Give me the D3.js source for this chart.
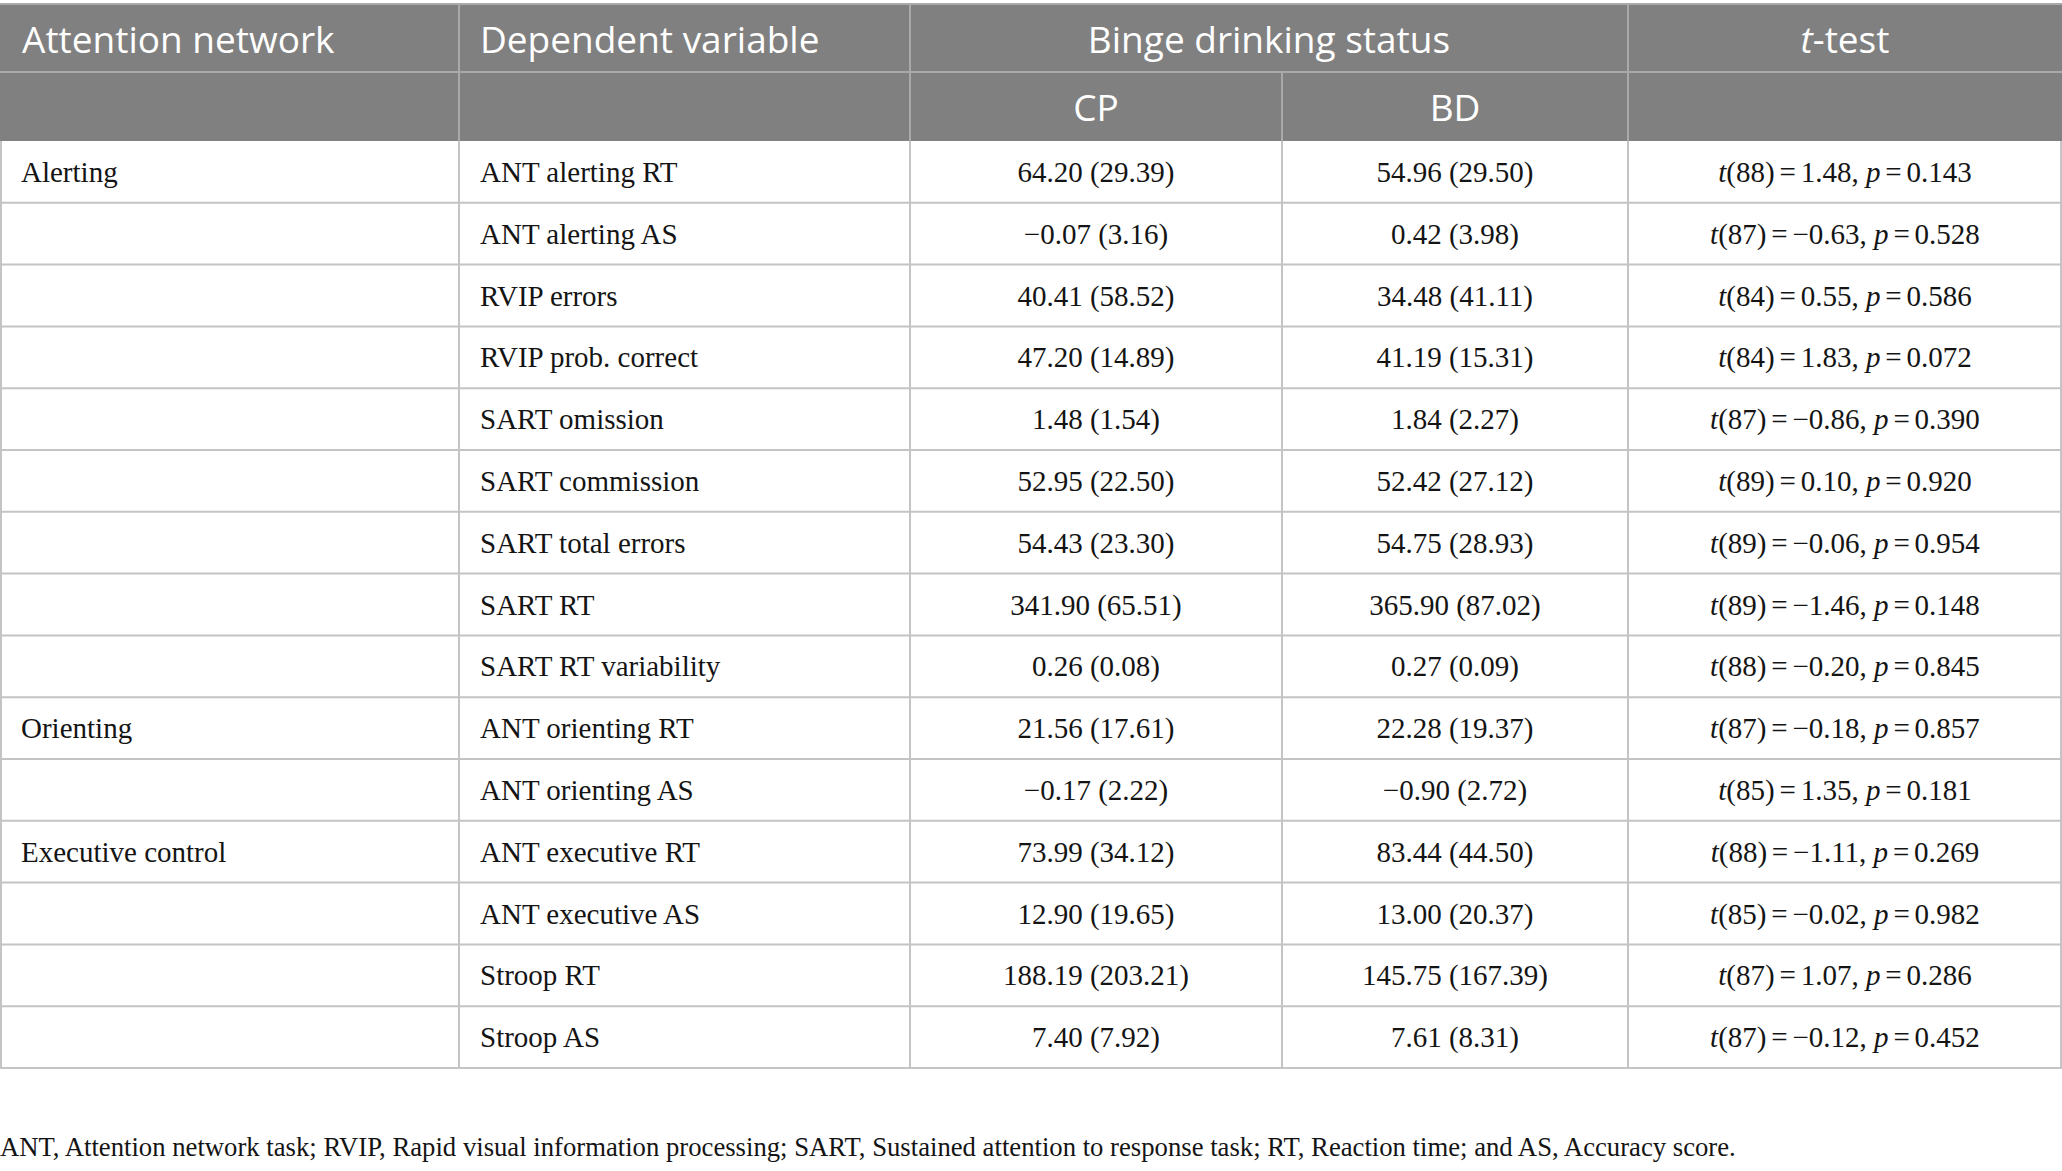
<!DOCTYPE html>
<html lang="en">
<head>
<meta charset="utf-8">
<title>Attention network table</title>
<script src="https://cdn.jsdelivr.net/npm/d3@7"></script>
<style>
  body { margin: 0; background: #fff; }
  svg { display: block; }
</style>
</head>
<body>
<script>
var networks = ["Alerting", "", "", "", "", "", "", "", "", "Orienting", "", "Executive control", "", "", ""];
var variables = ["ANT alerting RT", "ANT alerting AS", "RVIP errors", "RVIP prob. correct", "SART omission",
  "SART commission", "SART total errors", "SART RT", "SART RT variability", "ANT orienting RT",
  "ANT orienting AS", "ANT executive RT", "ANT executive AS", "Stroop RT", "Stroop AS"];
var cpMean = [64.20, -0.07, 40.41, 47.20, 1.48, 52.95, 54.43, 341.90, 0.26, 21.56, -0.17, 73.99, 12.90, 188.19, 7.40];
var cpSd   = [29.39, 3.16, 58.52, 14.89, 1.54, 22.50, 23.30, 65.51, 0.08, 17.61, 2.22, 34.12, 19.65, 203.21, 7.92];
var bdMean = [54.96, 0.42, 34.48, 41.19, 1.84, 52.42, 54.75, 365.90, 0.27, 22.28, -0.90, 83.44, 13.00, 145.75, 7.61];
var bdSd   = [29.50, 3.98, 41.11, 15.31, 2.27, 27.12, 28.93, 87.02, 0.09, 19.37, 2.72, 44.50, 20.37, 167.39, 8.31];
var tDf    = [88, 87, 84, 84, 87, 89, 89, 89, 88, 87, 85, 88, 85, 87, 87];
var tVal   = [1.48, -0.63, 0.55, 1.83, -0.86, 0.10, -0.06, -1.46, -0.20, -0.18, 1.35, -1.11, -0.02, 1.07, -0.12];
var pVal   = [0.143, 0.528, 0.586, 0.072, 0.390, 0.920, 0.954, 0.148, 0.845, 0.857, 0.181, 0.269, 0.982, 0.286, 0.452];
var headers = ["Attention network", "Dependent variable", "Binge drinking status", "t-test"];
var groups = ["CP", "BD"];
var footnote = "ANT, Attention network task; RVIP, Rapid visual information processing; SART, Sustained attention to response task; RT, Reaction time; and AS, Accuracy score.";

var w = 2062, h = 1171;
var colEdges = [0, 459, 910, 1282, 1628, 2062];
var f2 = d3.format(".2f"), f3 = d3.format(".3f");

var svg = d3.select("body").append("svg").attr("width", w).attr("height", h);

var headTop = 4, headMid = 72, headBot = 141, tableBot = 1068;
var y = d3.scaleBand().domain(d3.range(variables.length)).range([headBot, tableBot]);

var headFont = "'Open Sans', 'Noto Sans', sans-serif";
var bodyFont = "'Liberation Serif', 'DejaVu Serif', serif";
var headLine = "#a9a9a9", bodyLine = "#c4c4c4";
var sp = "\u2006";

// header background
svg.append("rect").attr("x", 0).attr("y", headTop).attr("width", w).attr("height", headBot - headTop).attr("fill", "#808080");
svg.append("line").attr("x1", 0).attr("x2", w).attr("y1", headTop).attr("y2", headTop).attr("stroke", headLine).attr("stroke-width", 2);
svg.append("line").attr("x1", 0).attr("x2", w).attr("y1", headMid).attr("y2", headMid).attr("stroke", headLine).attr("stroke-width", 2);

// header vertical lines
[1, 2, 4].forEach(function(i) {
  svg.append("line").attr("x1", colEdges[i]).attr("x2", colEdges[i]).attr("y1", headTop).attr("y2", headMid)
    .attr("stroke", headLine).attr("stroke-width", 2);
});
[1, 2, 3, 4].forEach(function(i) {
  svg.append("line").attr("x1", colEdges[i]).attr("x2", colEdges[i]).attr("y1", headMid).attr("y2", headBot)
    .attr("stroke", headLine).attr("stroke-width", 2);
});

var hy = (headTop + headMid) / 2 + 2, hy2 = (headMid + headBot) / 2 + 1;
function headText(x, yy, anchor) {
  return svg.append("text").attr("x", x).attr("y", yy).attr("dy", "0.36em")
    .attr("text-anchor", anchor).attr("fill", "#fff")
    .attr("font-family", headFont).attr("font-size", 37);
}
headText(colEdges[0] + 22, hy, "start").text(headers[0]);
headText(colEdges[1] + 21, hy, "start").text(headers[1]);
headText((colEdges[2] + colEdges[4]) / 2, hy, "middle").text(headers[2]);
var tt = headText((colEdges[4] + colEdges[5]) / 2, hy, "middle");
tt.append("tspan").attr("font-style", "italic").text("t");
tt.append("tspan").text("-test");
groups.forEach(function(g, i) {
  headText((colEdges[2 + i] + colEdges[3 + i]) / 2, hy2, "middle").text(g);
});

// body grid
svg.selectAll(".hline").data(d3.range(variables.length)).enter().append("line")
  .attr("class", "hline")
  .attr("x1", 0).attr("x2", w)
  .attr("y1", function(d) { return y(d) + y.bandwidth(); })
  .attr("y2", function(d) { return y(d) + y.bandwidth(); })
  .attr("stroke", bodyLine).attr("stroke-width", 2);
svg.selectAll(".vline").data(colEdges).enter().append("line")
  .attr("class", "vline")
  .attr("x1", function(d, i) { return i == 0 ? 1 : (i == colEdges.length - 1 ? w - 1 : d); })
  .attr("x2", function(d, i) { return i == 0 ? 1 : (i == colEdges.length - 1 ? w - 1 : d); })
  .attr("y1", headBot).attr("y2", tableBot)
  .attr("stroke", bodyLine).attr("stroke-width", 2);

var rows = svg.selectAll(".row").data(variables).enter().append("g")
  .attr("class", "row")
  .attr("transform", function(d, i) { return "translate(0," + (y(i) + y.bandwidth() / 2) + ")"; })
  .attr("font-family", bodyFont).attr("font-size", 29).attr("fill", "#141414");

rows.append("text").attr("x", colEdges[0] + 21).attr("dy", "0.35em")
  .text(function(d, i) { return networks[i]; });
rows.append("text").attr("x", colEdges[1] + 21).attr("dy", "0.35em")
  .text(function(d) { return d; });
rows.append("text").attr("x", (colEdges[2] + colEdges[3]) / 2).attr("dy", "0.35em").attr("text-anchor", "middle")
  .text(function(d, i) { return f2(cpMean[i]) + " (" + f2(cpSd[i]) + ")"; });
rows.append("text").attr("x", (colEdges[3] + colEdges[4]) / 2).attr("dy", "0.35em").attr("text-anchor", "middle")
  .text(function(d, i) { return f2(bdMean[i]) + " (" + f2(bdSd[i]) + ")"; });

var tcell = rows.append("text").attr("x", (colEdges[4] + colEdges[5]) / 2).attr("dy", "0.35em").attr("text-anchor", "middle");
tcell.append("tspan").attr("font-style", "italic").text("t");
tcell.append("tspan").text(function(d, i) { return "(" + tDf[i] + ")" + sp + "=" + sp + f2(tVal[i]) + ", "; });
tcell.append("tspan").attr("font-style", "italic").text("p");
tcell.append("tspan").text(function(d, i) { return sp + "=" + sp + f3(pVal[i]); });

svg.append("text").attr("x", 0).attr("y", 1147).attr("dy", "0.35em")
  .attr("font-family", bodyFont).attr("font-size", 26.7).attr("fill", "#141414")
  .text(footnote);
</script>
</body>
</html>
